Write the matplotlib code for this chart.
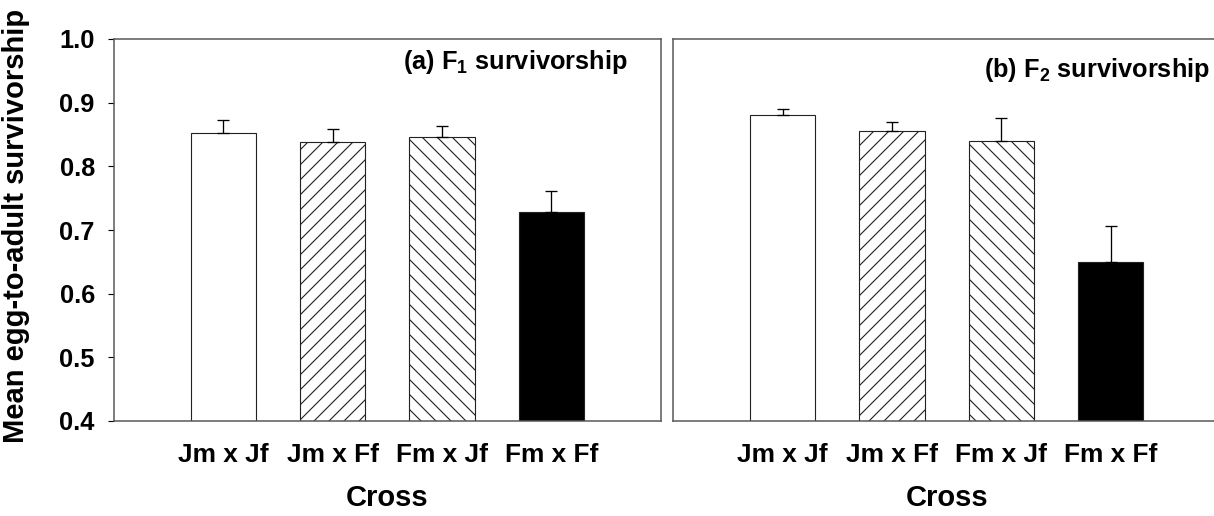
import matplotlib
matplotlib.use("Agg")
import matplotlib.pyplot as plt

plt.rcParams["font.family"] = ["Liberation Sans", "DejaVu Sans"]
plt.rcParams["font.weight"] = "bold"
plt.rcParams["mathtext.fontset"] = "custom"
plt.rcParams["mathtext.rm"] = "Liberation Sans:bold"
plt.rcParams["mathtext.bf"] = "Liberation Sans:bold"
plt.rcParams["hatch.linewidth"] = 0.6
plt.rcParams["hatch.color"] = "black"

crosses = ["Jm x Jf", "Jm x Ff", "Fm x Jf", "Fm x Ff"]
f1_mean = [0.853, 0.838, 0.846, 0.728]
f1_se = [0.020, 0.020, 0.017, 0.034]
f2_mean = [0.880, 0.856, 0.840, 0.650]
f2_se = [0.010, 0.013, 0.036, 0.056]

fills = ["white", "white", "white", "black"]
hatches = ["", "///", "\\\\\\", ""]

DPI = 135
fig = plt.figure(figsize=(1214 / DPI, 516 / DPI), dpi=DPI)
ax1 = fig.add_axes([114 / 1214, 95 / 516, 546.7 / 1214, 382 / 516])
ax2 = fig.add_axes([673.3 / 1214, 95 / 516, 546.7 / 1214, 382 / 516])

pos = [1, 2, 3, 4]


def panel(ax, means, se, title, ty):
    ax.bar(pos, means, width=0.6, color=fills, hatch=hatches,
           edgecolor="#222", linewidth=0.6, zorder=2)
    ax.errorbar(pos, means, yerr=[[0] * len(se), se], fmt="none",
                ecolor="black", elinewidth=0.7, capsize=3, capthick=0.7,
                zorder=3)
    ax.set_xlim(0, 5)
    ax.set_ylim(0.4, 1.0)
    ax.set_xticks(pos)
    ax.set_xticklabels(crosses, fontsize=14, fontweight="bold")
    ax.tick_params(axis="x", length=0, pad=12)
    ax.set_xlabel("Cross", fontsize=15.5, fontweight="bold", labelpad=9)
    for s in ax.spines.values():
        s.set_color("#555")
        s.set_linewidth(0.8)
    ax.text(ty[0], ty[1], title, transform=ax.transAxes, ha="right",
            va="center", fontsize=13.5, fontweight="bold")


panel(ax1, f1_mean, f1_se, r"(a) F$_\mathbf{1}$ survivorship", (0.94, 0.94))
panel(ax2, f2_mean, f2_se, r"(b) F$_\mathbf{2}$ survivorship", (0.982, 0.92))

ax1.set_yticks([0.4, 0.5, 0.6, 0.7, 0.8, 0.9, 1.0])
ax1.set_yticklabels(["0.4", "0.5", "0.6", "0.7", "0.8", "0.9", "1.0"],
                    fontsize=13.5, fontweight="bold")
ax1.tick_params(axis="y", direction="out", length=3.2, width=0.6, pad=7)
ax2.set_yticks([])

fig.text(16 / 1214, 0.563, "Mean egg-to-adult survivorship", rotation=90,
         ha="center", va="center", fontsize=15.5, fontweight="bold")

fig.savefig("out.png", dpi=DPI, facecolor="white")
